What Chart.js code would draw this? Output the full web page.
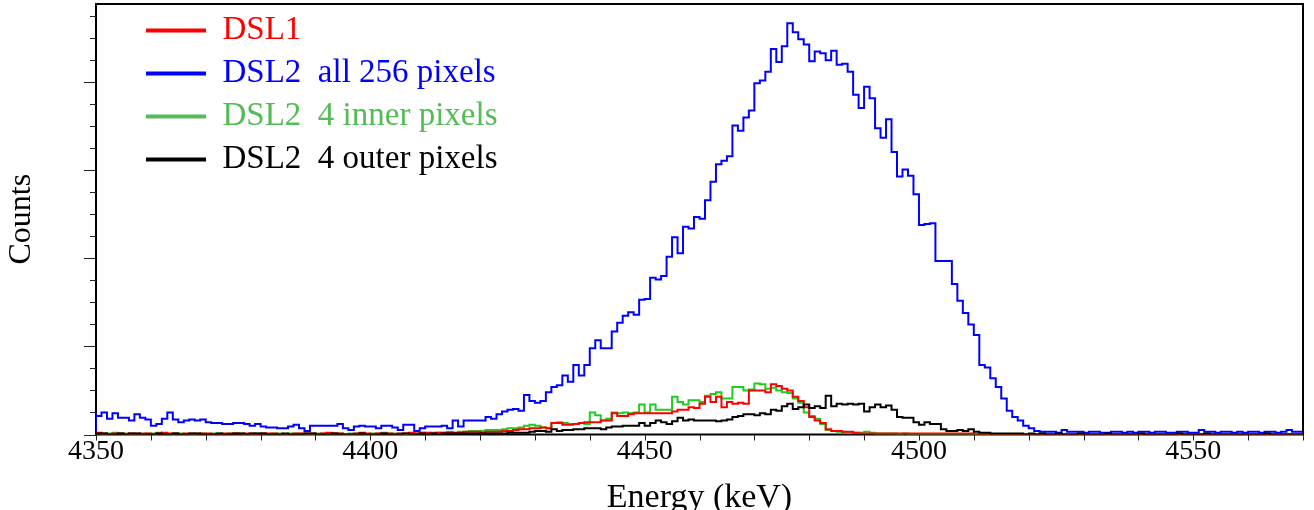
<!DOCTYPE html>
<html>
<head>
<meta charset="utf-8">
<title>DSL energy spectra</title>
<script src="https://cdn.jsdelivr.net/npm/chart.js@4.4.1/dist/chart.umd.min.js"></script>
<style>
  html, body { margin: 0; padding: 0; background: #fff; }
  #wrap { width: 1314px; height: 510px; }
</style>
</head>
<body>
<div id="wrap"><canvas id="spectrum" width="1314" height="510"></canvas></div>
<script>
// 1 keV bins, 4350 .. 4570 keV
const binStart = 4350;
const binCount = 220;
const binLow = Array.from({ length: binCount }, (_, i) => binStart + i);

const xTickLabels = [4350, 4400, 4450, 4500, 4550];
const xMinorTicks = [4350, 4360, 4370, 4380, 4390, 4400, 4410, 4420, 4430, 4440, 4450, 4460, 4470,
  4480, 4490, 4500, 4510, 4520, 4530, 4540, 4550, 4560, 4570];
const yMajorTicks = [0, 100, 200, 300, 400];
const yMinorTicks = [25, 50, 75, 125, 150, 175, 225, 250, 275, 325, 350, 375, 425, 450, 475];

const labels = ['DSL1', 'DSL2  all 256 pixels', 'DSL2  4 inner pixels', 'DSL2  4 outer pixels'];

const dsl1 = [
  1, 2, 1, 0, 1, 1, 0, 1, 0, 1,  1, 0, 1, 2, 1, 1, 0, 1, 1, 0,
  1, 1, 0, 0, 1, 1, 1, 0, 1, 1,  0, 1, 1, 1, 0, 0, 0, 1, 1, 1,
  1, 0, 1, 2, 1, 1, 0, 0, 1, 2,  1, 0, 1, 1, 1, 0, 1, 1, 2, 1,
  2, 2, 1, 2, 2, 2, 2, 2, 3, 3,  3, 2, 3, 3, 3, 4, 4, 5, 6, 6,
  7, 7, 8, 7, 13, 13, 11, 11, 12, 13,  14, 14, 14, 16, 16, 24, 21, 21, 23, 24,
  24, 24, 24, 24, 24, 24, 26, 28, 28, 31,  30, 35, 43, 37, 43, 31, 37, 35, 36, 35,
  50, 50, 50, 48, 57, 55, 52, 50, 43, 38,  31, 20, 16, 13, 6, 4, 4, 3, 3, 2,
  1, 1, 1, 1, 1, 1, 1, 1, 1, 1,  1, 1, 1, 1, 1, 1, 1, 1, 1, 1,
  1, 0, 0, 0, 0, 0, 0, 0, 0, 0,  0, 0, 0, 0, 0, 0, 0, 0, 0, 0,
  0, 0, 0, 0, 0, 0, 0, 0, 0, 0,  0, 0, 0, 0, 0, 0, 0, 0, 0, 0,
  0, 0, 0, 0, 0, 0, 0, 0, 0, 0,  0, 0, 0, 0, 0, 0, 0, 0, 0, 0
];

const dsl2All = [
  25, 21, 25, 18, 24, 19, 19, 16, 23, 19,  17, 10, 12, 18, 25, 17, 14, 16, 17, 16,
  17, 14, 13, 13, 12, 12, 13, 13, 12, 10,  12, 9, 8, 8, 7, 7, 9, 11, 7, 4,
  10, 10, 10, 10, 10, 12, 7, 5, 9, 10,  9, 9, 7, 10, 10, 8, 5, 11, 11, 4,
  7, 9, 9, 9, 10, 7, 16, 9, 16, 16,  16, 16, 20, 18, 23, 26, 28, 29, 27, 45,
  38, 36, 38, 48, 54, 56, 67, 60, 79, 67,  79, 98, 107, 98, 98, 117, 127, 135, 139, 136,
  153, 154, 178, 176, 180, 202, 224, 206, 236, 234,  247, 245, 266, 287, 307, 311, 316, 351, 345, 360,
  368, 399, 402, 412, 438, 423, 441, 467, 457, 449,  443, 424, 435, 433, 425, 436, 420, 421, 412, 386,
  371, 395, 382, 348, 337, 358, 321, 293, 301, 294,  273, 238, 239, 240, 197, 197, 197, 171, 152, 138,
  125, 113, 79, 76, 64, 54, 41, 27, 20, 16,  10, 7, 4, 3, 3, 3, 2, 5, 3, 3,
  3, 2, 3, 3, 2, 2, 3, 3, 2, 3,  2, 3, 3, 2, 3, 3, 2, 2, 3, 3,
  2, 2, 5, 3, 3, 2, 3, 3, 2, 3,  2, 3, 3, 2, 3, 3, 2, 3, 5, 3
];

const dsl2Inner = [
  0, 1, 0, 1, 2, 1, 1, 0, 1, 0,  1, 1, 2, 1, 0, 1, 1, 0, 0, 1,
  1, 0, 1, 1, 0, 1, 1, 1, 0, 0,  1, 1, 0, 1, 1, 0, 1, 1, 1, 0,
  0, 1, 1, 0, 1, 1, 0, 1, 1, 1,  0, 1, 1, 2, 1, 1, 1, 0, 1, 1,
  2, 1, 2, 2, 2, 3, 2, 3, 3, 4,  4, 4, 5, 5, 5, 6, 7, 7, 8, 10,
  11, 10, 8, 7, 13, 14, 13, 12, 12, 13,  12, 25, 22, 16, 18, 25, 24, 25, 24, 25,
  34, 25, 34, 28, 28, 28, 43, 37, 34, 39,  39, 37, 44, 46, 48, 41, 41, 54, 54, 50,
  51, 58, 57, 52, 53, 50, 48, 47, 41, 36,  25, 21, 18, 12, 5, 4, 3, 2, 2, 2,
  2, 3, 2, 1, 1, 1, 1, 0, 1, 0,  0, 0, 0, 0, 0, 0, 0, 0, 0, 0,
  0, 0, 0, 0, 0, 0, 0, 0, 0, 0,  0, 0, 0, 0, 0, 0, 0, 0, 0, 0,
  0, 0, 0, 0, 0, 0, 0, 0, 0, 0,  0, 0, 0, 0, 0, 0, 0, 0, 0, 0,
  0, 0, 0, 0, 0, 0, 0, 0, 0, 0,  0, 0, 0, 0, 0, 0, 0, 0, 0, 0
];

const dsl2Outer = [
  0, 1, 1, 0, 0, 1, 0, 1, 1, 0,  0, 0, 1, 0, 0, 1, 0, 0, 1, 1,
  0, 0, 0, 1, 0, 0, 1, 1, 0, 1,  1, 1, 0, 0, 0, 1, 0, 0, 0, 1,
  1, 0, 0, 0, 1, 0, 0, 0, 0, 1,  0, 0, 0, 1, 0, 0, 0, 1, 0, 0,
  1, 0, 1, 0, 1, 1, 1, 1, 1, 1,  1, 1, 1, 1, 1, 1, 2, 2, 2, 2,
  3, 4, 4, 3, 6, 4, 5, 5, 6, 6,  7, 7, 7, 6, 8, 9, 9, 10, 10, 10,
  13, 10, 13, 16, 14, 12, 15, 19, 16, 17,  16, 16, 16, 16, 15, 16, 17, 20, 21, 23,
  23, 22, 24, 23, 28, 27, 32, 35, 29, 31,  34, 30, 32, 30, 44, 32, 35, 34, 35, 34,
  35, 26, 31, 34, 31, 33, 28, 20, 19, 19,  14, 11, 14, 12, 12, 6, 4, 4, 5, 4,
  6, 3, 2, 2, 1, 1, 1, 1, 1, 1,  0, 1, 0, 1, 0, 0, 1, 0, 0, 0,
  1, 0, 0, 0, 0, 1, 0, 0, 0, 0,  0, 1, 0, 0, 0, 0, 0, 0, 1, 0,
  0, 0, 0, 1, 0, 0, 0, 0, 0, 0,  0, 0, 0, 0, 1, 0, 0, 0, 0, 0
];

const lineColors = ['#ff0000', '#0000ff', '#1fcc1f', '#000000'];
const legendColors = ['#ff0000', '#0000ff', '#55bb55', '#000000'];

// histogram outline: one point per lower bin edge, plus the closing upper edge
function histPoints(values) {
  const pts = [{ x: binLow[0], y: 0 }];
  values.forEach((v, i) => pts.push({ x: binLow[i], y: v }));
  pts.push({ x: binLow[binLow.length - 1] + 1, y: values[values.length - 1] });
  return pts;
}

const serif = 'Liberation Serif, "Times New Roman", serif';

const frameAndTicks = {
  id: 'frameAndTicks',
  beforeDatasetsDraw(chart) {
    const { ctx, chartArea: a, scales: { x, y } } = chart;
    ctx.save();
    ctx.strokeStyle = '#000';
    ctx.lineWidth = 2;
    ctx.strokeRect(a.left, a.top, a.right - a.left, a.bottom - a.top);
    ctx.lineWidth = 1;
    ctx.strokeStyle = '#222';
    ctx.beginPath();
    xMinorTicks.forEach(v => {
      const px = Math.round(x.getPixelForValue(v)) + 0.5;
      ctx.moveTo(px, a.bottom);
      ctx.lineTo(px, a.bottom + 6);
    });
    yMajorTicks.forEach(v => {
      const py = Math.round(y.getPixelForValue(v)) + 0.5;
      ctx.moveTo(a.left, py);
      ctx.lineTo(a.left - 12, py);
    });
    yMinorTicks.forEach(v => {
      const py = Math.round(y.getPixelForValue(v)) + 0.5;
      ctx.moveTo(a.left, py);
      ctx.lineTo(a.left - 6, py);
    });
    ctx.stroke();
    ctx.restore();
  }
};

// nudge the in-plot legend away from the y axis
const legendOffset = {
  id: 'legendOffset',
  afterLayout(chart) {
    const lg = chart.legend;
    if (!lg) return;
    lg.left += 40;
    lg.right += 40;
    lg.top += 4;
    lg.bottom += 4;
  }
};

const series = [dsl1, dsl2All, dsl2Inner, dsl2Outer];
const drawOrder = [1, 3, 2, 0];

new Chart(document.getElementById('spectrum'), {
  type: 'line',
  data: {
    datasets: series.map((vals, i) => ({
      label: labels[i],
      data: histPoints(vals),
      borderColor: lineColors[i],
      borderWidth: 2,
      stepped: 'after',
      pointRadius: 0,
      fill: false,
      order: drawOrder[i]
    }))
  },
  options: {
    responsive: false,
    animation: false,
    devicePixelRatio: 1,
    layout: { padding: { left: 0, right: 11, top: 4, bottom: 0 } },
    plugins: {
      tooltip: { enabled: false },
      legend: {
        position: 'chartArea',
        align: 'start',
        labels: {
          usePointStyle: true,
          pointStyleWidth: 60,
          padding: 10,
          font: { family: serif, size: 33 },
          generateLabels: chart => chart.data.datasets.map((ds, i) => ({
            text: ds.label,
            strokeStyle: legendColors[i],
            fillStyle: legendColors[i],
            fontColor: legendColors[i],
            lineWidth: 4,
            pointStyle: 'line',
            hidden: false,
            datasetIndex: i
          }))
        }
      }
    },
    scales: {
      x: {
        type: 'linear',
        min: 4350,
        max: 4570,
        grid: { display: false, drawTicks: false },
        border: { display: false },
        afterBuildTicks: s => { s.ticks = xTickLabels.map(v => ({ value: v })); },
        afterFit: s => { s.height = 75.5; },
        ticks: {
          padding: 0,
          maxRotation: 0,
          autoSkip: false,
          color: '#000',
          font: { family: serif, size: 28 },
          callback: v => String(v)
        },
        title: {
          display: true,
          text: 'Energy (keV)',
          color: '#000',
          font: { family: serif, size: 34, lineHeight: 1 },
          padding: { top: 0, bottom: -5 }
        }
      },
      y: {
        min: 0,
        max: 489,
        grid: { display: false, drawTicks: false },
        border: { display: false },
        ticks: { display: false },
        afterFit: s => { s.width = 96; },
        title: {
          display: true,
          text: 'Counts',
          color: '#000',
          font: { family: serif, size: 32, lineHeight: 1 },
          padding: { top: 6, bottom: 0 }
        }
      }
    }
  },
  plugins: [frameAndTicks, legendOffset]
});
</script>
</body>
</html>
